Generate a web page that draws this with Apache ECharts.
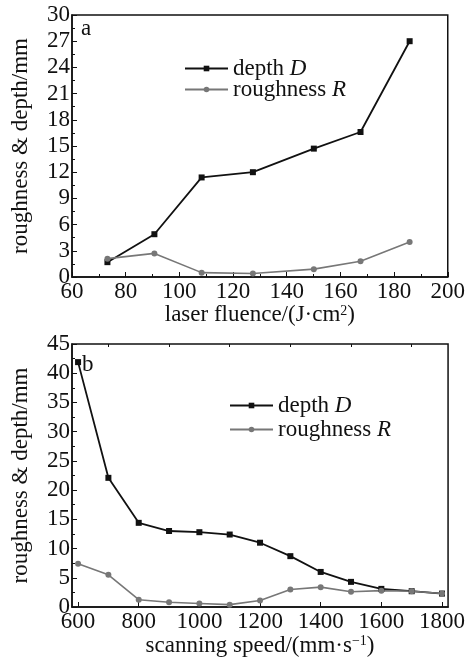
<!DOCTYPE html>
<html>
<head>
<meta charset="utf-8">
<script src="https://cdn.jsdelivr.net/npm/echarts@6/dist/echarts.min.js"></script>
<style>
  html, body { margin: 0; padding: 0; background: #fff; }
  #chart { width: 468px; height: 662px; }
</style>
</head>
<body>
<div id="chart"></div>
<script>
// (a) laser fluence
var fluence = [73.2, 90.7, 108.3, 127.4, 150.1, 167.5, 185.8];
var depthA = [1.7, 4.9, 11.4, 12.0, 14.7, 16.6, 27.0];
var roughA = [2.1, 2.7, 0.5, 0.4, 0.9, 1.8, 4.0];

// (b) scanning speed
var speed = [600, 700, 800, 900, 1000, 1100, 1200, 1300, 1400, 1500, 1600, 1700, 1800];
var depthB = [41.9, 22.1, 14.4, 13.0, 12.8, 12.4, 11.0, 8.7, 6.0, 4.3, 3.1, 2.7, 2.3];
var roughB = [7.4, 5.5, 1.25, 0.8, 0.6, 0.4, 1.1, 3.0, 3.4, 2.6, 2.8, 2.7, 2.3];

var speedLabels = [600, 800, 1000, 1200, 1400, 1600, 1800];
var speedMinor = [700, 900, 1100, 1300, 1500, 1700];

var names = ['depth D', 'roughness R'];

var FONT = 'Liberation Serif';
var INK = '#111';
var GREY = '#777';

var chart = echarts.init(document.getElementById('chart'));

function legendName(n) {
  var i = n.lastIndexOf(' ');
  return '{t|' + n.slice(0, i + 1) + '}{i|' + n.slice(i + 1) + '}';
}

var legendText = {
  fontFamily: FONT, fontSize: 23, lineHeight: 20, color: INK,
  rich: {
    t: { fontFamily: FONT, fontSize: 23, lineHeight: 20, color: INK },
    i: { fontFamily: FONT, fontSize: 23, lineHeight: 20, fontStyle: 'italic', color: INK }
  }
};

var nameText = {
  fontFamily: FONT, fontSize: 23, color: INK,
  rich: {
    a: { fontFamily: FONT, fontSize: 23, color: INK },
    s: { fontFamily: FONT, fontSize: 14, color: INK, verticalAlign: 'top' }
  }
};

function plain(v) { return String(v); }

function yAxis(grid, max, interval) {
  return {
    type: 'value', gridIndex: grid, min: 0, max: max, interval: interval,
    name: 'roughness & depth/mm', nameLocation: 'middle', nameGap: 40,
    nameTextStyle: { fontFamily: FONT, fontSize: 23, color: INK },
    axisLine: { show: true, lineStyle: { color: INK, width: 1.5 } },
    axisTick: { inside: true, length: 5, lineStyle: { color: INK } },
    minorTick: { show: true, splitNumber: 2, length: 3, lineStyle: { color: INK } },
    axisLabel: { fontFamily: FONT, fontSize: 23, color: INK, margin: 2, formatter: plain },
    splitLine: { show: false }
  };
}

function lineSeries(name, xi, yi, xs, ys, color, symbol, size, width) {
  return {
    name: name, type: 'line', xAxisIndex: xi, yAxisIndex: yi,
    data: xs.map(function (x, k) { return [x, ys[k]]; }),
    symbol: symbol, symbolSize: size, showSymbol: true,
    lineStyle: { color: color, width: width },
    itemStyle: { color: color },
    emphasis: { disabled: true }
  };
}

chart.setOption({
  backgroundColor: '#fff',
  animation: false,
  grid: [
    { left: 72, top: 15, right: 18, height: 262, show: true, borderColor: INK, borderWidth: 1.5 },
    { left: 72, top: 344, right: 18, height: 263, show: true, borderColor: INK, borderWidth: 1.5 }
  ],
  legend: [
    { orient: 'vertical', left: 184, top: 57, padding: 0, itemWidth: 43, itemHeight: 7, itemGap: -2,
      data: names, textStyle: legendText, formatter: legendName },
    { orient: 'vertical', left: 229, top: 394, padding: 0, itemWidth: 43, itemHeight: 7, itemGap: 1,
      data: names, textStyle: legendText, formatter: legendName }
  ],
  xAxis: [
    {
      type: 'value', gridIndex: 0, min: 60, max: 200, interval: 20,
      name: '{a|laser fluence/(J·cm}{s|2}{a|)}', nameLocation: 'middle', nameGap: 24,
      nameTextStyle: nameText,
      axisLine: { show: true, lineStyle: { color: INK, width: 1.5 } },
      axisTick: { inside: true, length: 5, lineStyle: { color: INK } },
      minorTick: { show: true, splitNumber: 2, length: 3, lineStyle: { color: INK } },
      axisLabel: { fontFamily: FONT, fontSize: 23, color: INK, margin: 3, formatter: plain },
      splitLine: { show: false }
    },
    {
      type: 'value', gridIndex: 1, min: 580, max: 1820,
      name: '{a|scanning speed/(mm·s}{s|−1}{a|)}', nameLocation: 'middle', nameGap: 27,
      nameTextStyle: nameText,
      axisLine: { show: true, lineStyle: { color: INK, width: 1.5 } },
      axisTick: { inside: true, length: 5, customValues: speedLabels, lineStyle: { color: INK } },
      axisLabel: { fontFamily: FONT, fontSize: 23, color: INK, margin: 3, customValues: speedLabels, formatter: plain },
      splitLine: { show: false }
    },
    {
      type: 'value', gridIndex: 1, min: 580, max: 1820,
      axisLine: { show: false },
      axisTick: { inside: true, length: 3, customValues: speedMinor, lineStyle: { color: INK } },
      axisLabel: { show: false },
      splitLine: { show: false }
    }
  ],
  yAxis: [yAxis(0, 30, 3), yAxis(1, 45, 5)],
  series: [
    lineSeries(names[0], 0, 0, fluence, depthA, INK, 'rect', 6, 1.8),
    lineSeries(names[1], 0, 0, fluence, roughA, GREY, 'circle', 6, 1.6),
    lineSeries(names[0], 1, 1, speed, depthB, INK, 'rect', 6, 1.8),
    lineSeries(names[1], 1, 1, speed, roughB, GREY, 'circle', 6, 1.6)
  ],
  graphic: [
    { type: 'text', left: 81, top: 17, style: { text: 'a', font: '23px "Liberation Serif"', fill: INK } },
    { type: 'text', left: 82, top: 353, style: { text: 'b', font: '23px "Liberation Serif"', fill: INK } }
  ]
});
</script>
</body>
</html>
